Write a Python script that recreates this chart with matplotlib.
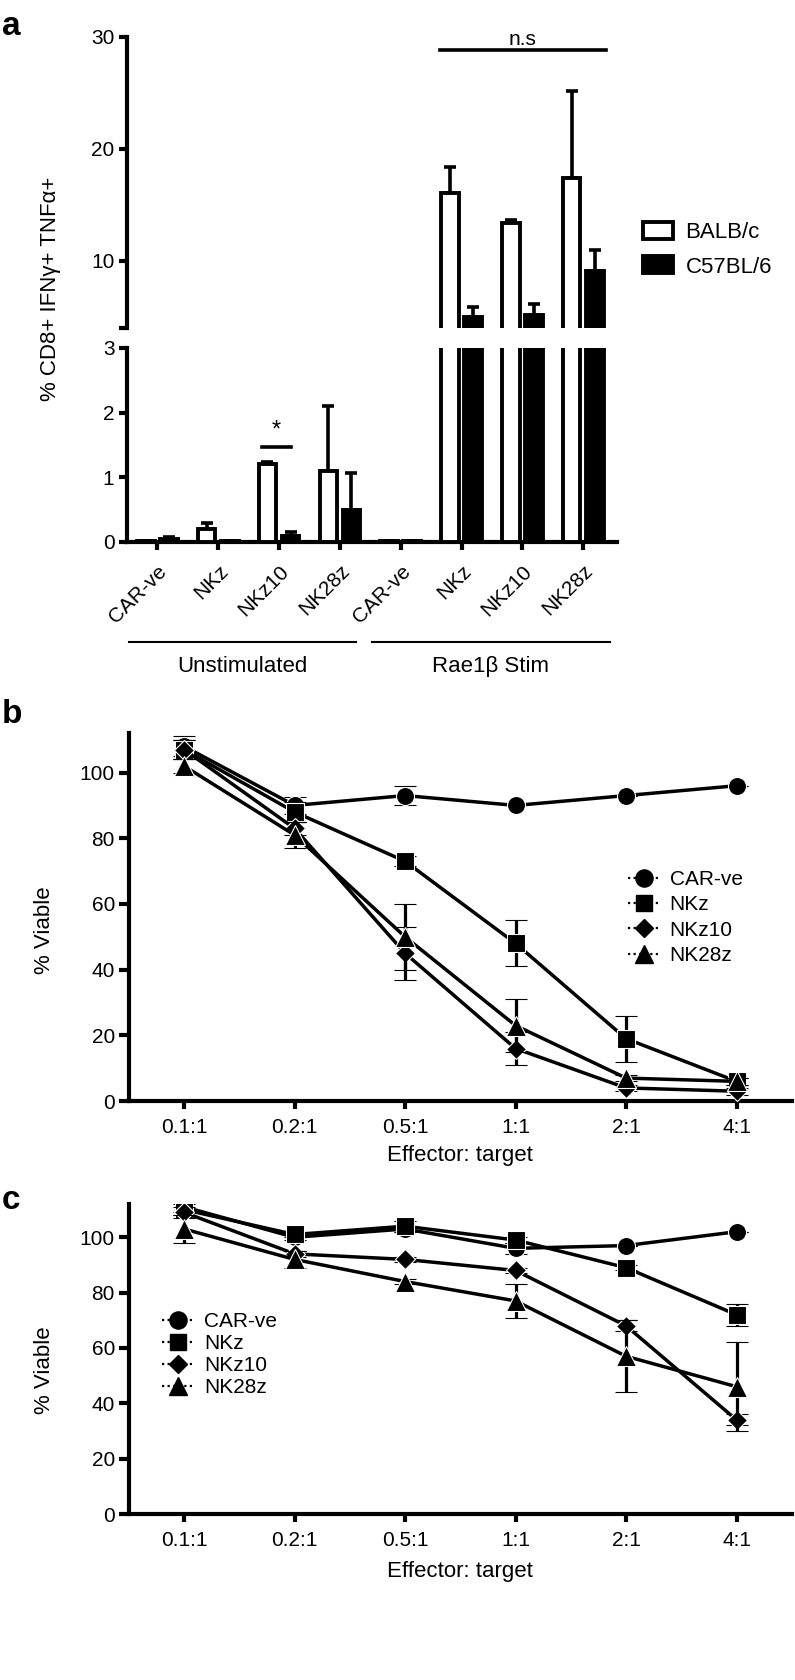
import numpy as np
import matplotlib
matplotlib.use('Agg')
from matplotlib import pyplot as plt
from matplotlib.lines import Line2D
from matplotlib.patches import Patch

plt.rcParams['font.family'] = ['Liberation Sans', 'DejaVu Sans']

############################################
# data - panel a (bars)
groups = ['CAR-ve', 'NKz', 'NKz10', 'NK28z', 'CAR-ve', 'NKz', 'NKz10', 'NK28z']
balbc_mean = [0.02, 0.2, 1.2, 1.1, 0.01, 16.1, 13.4, 17.4]
balbc_err = [0.0, 0.1, 0.03, 1.0, 0.0, 2.3, 0.2, 7.8]
c57_mean = [0.05, 0.01, 0.1, 0.5, 0.01, 5.0, 5.2, 9.1]
c57_err = [0.03, 0.0, 0.06, 0.57, 0.0, 0.9, 0.9, 1.9]

# data - panels b and c (lines)
ratios = ['0.1:1', '0.2:1', '0.5:1', '1:1', '2:1', '4:1']
series_names = ['CAR-ve', 'NKz', 'NKz10', 'NK28z']

car_b = [108, 90, 93, 90, 93, 96]
car_b_err = [3, 2.5, 3, 0, 0, 0]
nkz_b = [107, 88, 73, 48, 19, 6]
nkz_b_err = [3, 3, 1.5, 7, 7, 1]
nkz10_b = [107, 83, 45, 16, 4, 3]
nkz10_b_err = [3, 2, 8, 5, 1, 1]
nk28z_b = [102, 81, 50, 23, 7, 6]
nk28z_b_err = [2, 4, 10, 8, 1, 1]

car_c = [111, 100, 103, 96, 97, 102]
car_c_err = [2, 1, 1, 2, 0, 0]
nkz_c = [110, 101, 104, 99, 89, 72]
nkz_c_err = [2, 1, 2, 1, 1, 4]
nkz10_c = [109, 94, 92, 88, 68, 34]
nkz10_c_err = [2, 1, 1, 1, 2, 2]
nk28z_c = [103, 92, 84, 77, 57, 46]
nk28z_c_err = [5, 3, 1, 6, 13, 16]

markers = ['o', 's', 'D', '^']
msizes = [13, 12.5, 10, 14]

############################################
fig = plt.figure(figsize=(7.95, 16.8), dpi=100)

# ## panel a - broken y axis bar chart
ax_hi = fig.add_axes([0.1597, 0.8048, 0.616, 0.1732])
ax_lo = fig.add_axes([0.1597, 0.6774, 0.616, 0.1155])

x = np.arange(len(groups))
for ax in [ax_hi, ax_lo]:
  ax.bar(x - 0.19, balbc_mean, 0.29, color='white', edgecolor='k', linewidth=2.8, zorder=3)
  ax.bar(x + 0.19, c57_mean, 0.29, color='k', edgecolor='k', linewidth=2.8, zorder=3)
  ax.errorbar(x - 0.19, balbc_mean, yerr=[np.zeros(len(x)), balbc_err], fmt='none',
              ecolor='k', elinewidth=2.6, capsize=4, capthick=2.6, zorder=2)
  ax.errorbar(x + 0.19, c57_mean, yerr=[np.zeros(len(x)), c57_err], fmt='none',
              ecolor='k', elinewidth=2.6, capsize=4, capthick=2.6, zorder=2)
  ax.set_xlim(-0.5, 7.55)
  ax.spines['top'].set_visible(False)
  ax.spines['right'].set_visible(False)
  ax.spines['left'].set_linewidth(3)
  ax.spines['bottom'].set_linewidth(3)
  ax.tick_params(axis='y', length=6, width=3, labelsize=15, pad=3)

ax_hi.set_ylim(4, 30)
ax_hi.set_yticks([4, 10, 20, 30])
ax_hi.set_yticklabels(['', '10', '20', '30'])
ax_hi.spines['bottom'].set_visible(False)
ax_hi.tick_params(axis='x', bottom=False, labelbottom=False)

ax_lo.set_ylim(0, 3)
ax_lo.set_yticks([0, 1, 2, 3])
ax_lo.set_xticks(x)
ax_lo.set_xticklabels(groups, rotation=45, ha='right', rotation_mode='anchor', fontsize=15)
ax_lo.tick_params(axis='x', length=6, width=3, pad=8)

# significance marks
ax_hi.plot([4.64, 7.38], [28.8, 28.8], color='k', lw=2.6, clip_on=False)
ax_hi.text(6.01, 29.3, 'n.s', ha='center', va='baseline', fontsize=15)
ax_lo.plot([1.72, 2.2], [1.47, 1.47], color='k', lw=2.6, clip_on=False)
ax_lo.text(1.96, 1.55, '*', ha='center', va='bottom', fontsize=17)

# group lines under the labels
trans = ax_lo.get_xaxis_transform()
ax_lo.plot([-0.46, 3.27], [-0.515, -0.515], color='k', lw=1.5, transform=trans, clip_on=False)
ax_lo.plot([3.52, 7.44], [-0.515, -0.515], color='k', lw=1.5, transform=trans, clip_on=False)
ax_lo.text(1.4, -0.64, 'Unstimulated', transform=trans, ha='center', va='center', fontsize=16)
ax_lo.text(5.48, -0.64, 'Rae1β Stim', transform=trans, ha='center', va='center', fontsize=16)

fig.text(0.063, 0.828, '% CD8+ IFNγ+ TNFα+', rotation=90, ha='center', va='center', fontsize=16)

bar_handles = [Patch(facecolor='white', edgecolor='k', linewidth=2.8),
               Patch(facecolor='k', edgecolor='k', linewidth=2.8)]
ax_hi.legend(bar_handles, ['BALB/c', 'C57BL/6'], loc='upper left', bbox_to_anchor=(0.809, 0.868),
             bbox_transform=fig.transFigure, frameon=False, fontsize=16, handlelength=1.35,
             handleheight=0.8, handletextpad=0.55, labelspacing=0.6, borderpad=0, borderaxespad=0)

fig.text(0.002, 0.9935, 'a', fontsize=24, fontweight='bold', ha='left', va='top')


############################################
# ## panels b and c - viability curves
def plot_viability(ax, values, errs, leg_anchor, leg_spacing):
  xr = np.arange(len(ratios))
  for i in range(0, len(values)):
    ax.errorbar(xr, values[i], yerr=errs[i], color='k', lw=2.5, marker=markers[i], ms=msizes[i],
                mec='white', mew=0.8, elinewidth=2.3, capsize=8, capthick=2.3, zorder=3 + i)
  ax.set_xlim(-0.5, 5.5)
  ax.set_ylim(0, 112)
  ax.set_yticks([0, 20, 40, 60, 80, 100])
  ax.set_xticks(xr)
  ax.set_xticklabels(ratios)
  ax.spines['top'].set_visible(False)
  ax.spines['right'].set_visible(False)
  ax.spines['left'].set_linewidth(3)
  ax.spines['bottom'].set_linewidth(3)
  ax.tick_params(axis='y', length=7, width=3, labelsize=15, pad=3)
  ax.tick_params(axis='x', length=6, width=3, labelsize=15, pad=6)

  handles = []
  for i in range(0, len(series_names)):
    handles.append(Line2D([0], [0], color='k', lw=1.6, ls=(0, (1, 1.5)), marker=markers[i],
                          ms=msizes[i] * 0.95, mec='k'))
  ax.legend(handles, series_names, loc='upper left', bbox_to_anchor=leg_anchor,
            bbox_transform=fig.transFigure, frameon=False, fontsize=15, handlelength=1.5,
            handletextpad=0.5, labelspacing=leg_spacing, borderpad=0, borderaxespad=0)


ax_b = fig.add_axes([0.162, 0.3446, 0.834, 0.219])
plot_viability(ax_b, [car_b, nkz_b, nkz10_b, nk28z_b],
               [car_b_err, nkz_b_err, nkz10_b_err, nk28z_b_err], (0.79, 0.482), 0.3)
fig.text(0.056, 0.4464, '% Viable', rotation=90, ha='center', va='center', fontsize=16)
fig.text(0.579, 0.3125, 'Effector: target', ha='center', va='center', fontsize=16)
fig.text(0.002, 0.584, 'b', fontsize=24, fontweight='bold', ha='left', va='top')

ax_c = fig.add_axes([0.162, 0.0988, 0.834, 0.1845])
plot_viability(ax_c, [car_c, nkz_c, nkz10_c, nk28z_c],
               [car_c_err, nkz_c_err, nkz10_c_err, nk28z_c_err], (0.204, 0.219), 0.14)
fig.text(0.056, 0.1845, '% Viable', rotation=90, ha='center', va='center', fontsize=16)
fig.text(0.579, 0.0643, 'Effector: target', ha='center', va='center', fontsize=16)
fig.text(0.002, 0.2945, 'c', fontsize=24, fontweight='bold', ha='left', va='top')

plt.savefig('out.png', dpi=100)
